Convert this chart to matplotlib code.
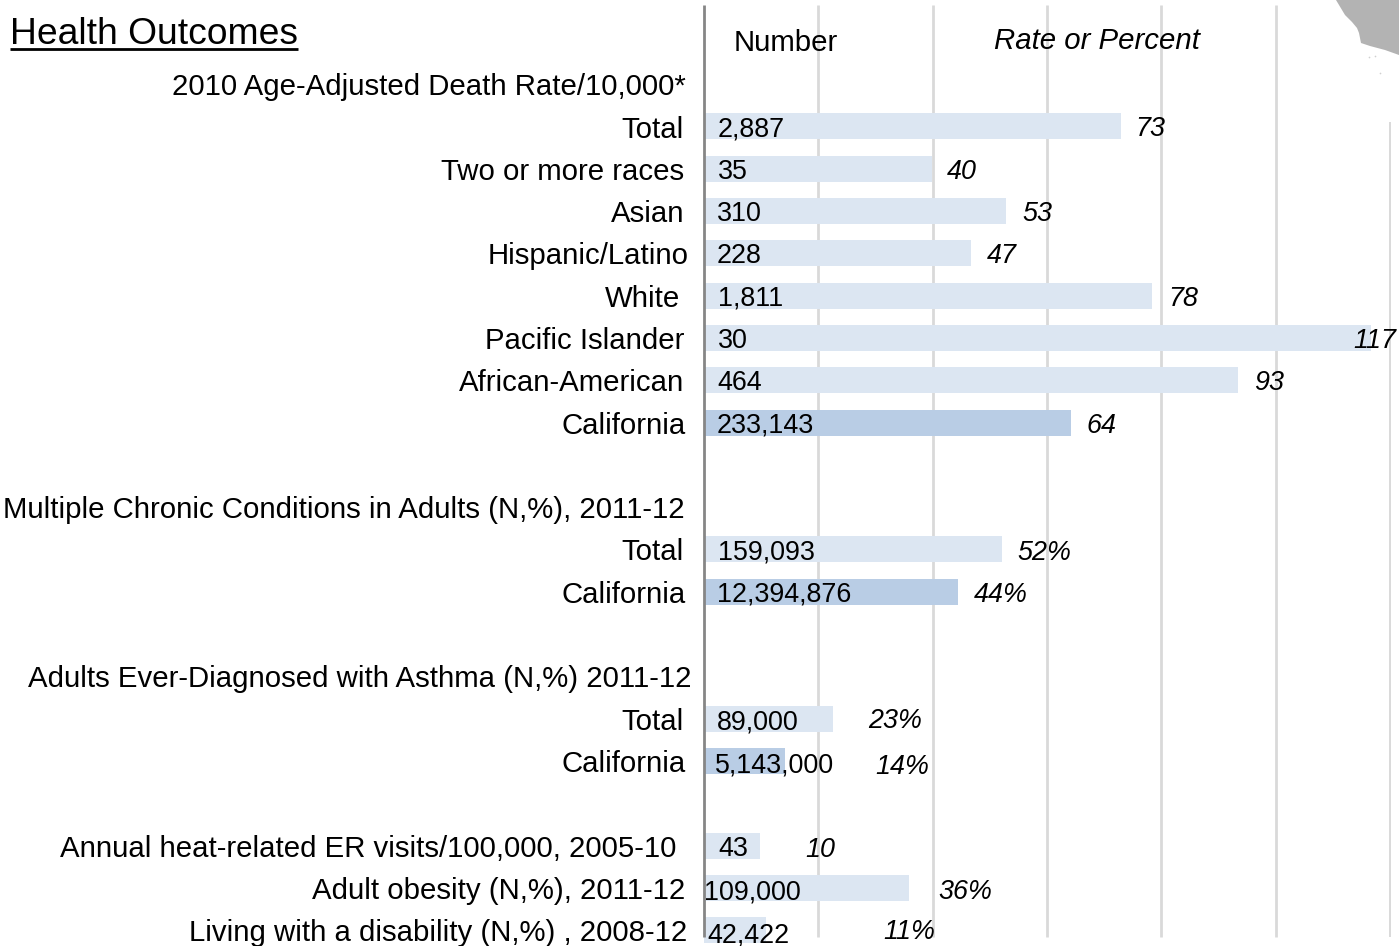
import numpy as np
import matplotlib
matplotlib.use('Agg')
import matplotlib.pyplot as plt

plt.rcParams['font.family'] = ['Liberation Sans', 'DejaVu Sans']

# ----- data -----
labels = ['Total', 'Two or more races', 'Asian', 'Hispanic/Latino', 'White',
          'Pacific Islander', 'African-American', 'California',
          'Total', 'California',
          'Total', 'California',
          'Annual heat-related ER visits/100,000, 2005-10',
          'Adult obesity (N,%), 2011-12',
          'Living with a disability (N,%) , 2008-12']
numbers = ['2,887', '35', '310', '228', '1,811', '30', '464', '233,143',
           '159,093', '12,394,876',
           '89,000', '5,143,000',
           '43', '109,000', '42,422']
# bar lengths, the printed figures are rounded
rates = [72.9, 39.9, 52.9, 46.7, 78.4, 116.7, 93.5, 64.2,
         52.2, 44.5,
         22.6, 14.2,
         9.8, 35.9, 10.9]
rate_text = ['73', '40', '53', '47', '78', '117', '93', '64',
             '52%', '44%',
             '23%', '14%',
             '10', '36%', '11%']
is_state = [0, 0, 0, 0, 0, 0, 0, 1,
            0, 1,
            0, 1,
            0, 0, 0]
headers = ['2010 Age-Adjusted Death Rate/10,000*',
           'Multiple Chronic Conditions in Adults (N,%), 2011-12',
           'Adults Ever-Diagnosed with Asthma (N,%) 2011-12']
grid_ticks = [20, 40, 60, 80, 100, 120]

# ----- layout (pixels of the picture) -----
W, H = 1399, 946
X0 = 704.0        # x of zero
PX_PER_UNIT = 5.715
Y0 = 126.5        # y of first row
ROW = 42.3

rows = [0, 1, 2, 3, 4, 5, 6, 7, 10, 11, 14, 15, 17, 18, 19]
header_rows = [-1, 9, 13]
header_right = [686, 685, 691]
label_right = [684, 684, 684, 689, 680, 684, 684, 686, 684, 686, 684, 686, 676, 685, 687]
num_left = [718, 718, 717, 717, 718, 718, 717, 717, 718, 717, 717, 715, 718, 704, 707]
num_dy = [0, 0, 0, 0, 0, 0, 0, 0, 0, 0, 1, 1, 0, 2, 2]
rate_left = [1135, 947, 1022, 987, 1168, 1353, 1254, 1086, 1017, 974, 868, 875, 805, 938, 883]
rate_dy = [0, 0, 0, 0, 0, 0, 0, 0, 0, 0, -1, 3, 1, 1, -1]


def px_x(p):
    return (p - X0) / PX_PER_UNIT


def px_y(p):
    return (p - Y0) / ROW


fig = plt.figure(figsize=(W / 100, H / 100), dpi=100)
ax = fig.add_axes([0, 0, 1, 1])
ax.set_xlim(px_x(0), px_x(W))
ax.set_ylim(px_y(H), px_y(0))
ax.axis('off')

# gridlines, the last one starts lower
for t in grid_ticks:
    top = 122 if t == 120 else 5
    ax.plot([t, t], [px_y(top), px_y(937)], color='#D9D9D9', lw=2.0 if t != 120 else 1.4,
            solid_capstyle='butt', zorder=1)

colors = ['#B9CDE5' if s else '#DCE6F2' for s in is_state]
ax.barh(rows, rates, height=26 / ROW, color=colors, zorder=2)

ax.plot([0, 0], [px_y(5), px_y(937)], color='#868686', lw=2.0, solid_capstyle='butt', zorder=3)

for i in range(len(rows)):
    y = rows[i]
    ax.text(px_x(label_right[i]), y, labels[i], ha='right', va='center_baseline',
            fontsize=21.2, color='black', zorder=4)
    ax.text(px_x(num_left[i]), y + num_dy[i] / ROW, numbers[i], ha='left', va='center_baseline',
            fontsize=19.4, color='black', zorder=4)
    ax.text(px_x(rate_left[i]), y + rate_dy[i] / ROW, rate_text[i], ha='left', va='center_baseline',
            fontsize=19.4, style='italic', color='black', zorder=4)

for r, right, txt in zip(header_rows, header_right, headers):
    ax.text(px_x(right), r, txt, ha='right', va='center_baseline', fontsize=21.2, color='black', zorder=4)

# title and column heads
ax.text(px_x(10), px_y(30), 'Health Outcomes', ha='left', va='center_baseline', fontsize=26.8, color='black')
ax.plot([px_x(10), px_x(298)], [px_y(49), px_y(49)], color='black', lw=2.0, solid_capstyle='butt')
ax.text(px_x(734), px_y(40), 'Number', ha='left', va='center_baseline', fontsize=21.2, color='black')
ax.text(px_x(994), px_y(38), 'Rate or Percent', ha='left', va='center_baseline', fontsize=21.2,
        style='italic', color='black')

# corner of the state map
map_x = [1336, 1345, 1352, 1357, 1359, 1361, 1370, 1385, 1399, 1399]
map_y = [0, 15, 22, 28, 33, 43, 46, 50, 55, 0]
ax.fill(px_x(np.array(map_x)), px_y(np.array(map_y)), color='#B3B3B3', lw=0, zorder=1)
ax.plot(px_x(np.array([1369, 1375, 1380])), px_y(np.array([57, 56, 73])), ls='none', marker='o',
        ms=1.2, color='#D0D0D0', mew=0)

fig.savefig('out.png', dpi=100)
